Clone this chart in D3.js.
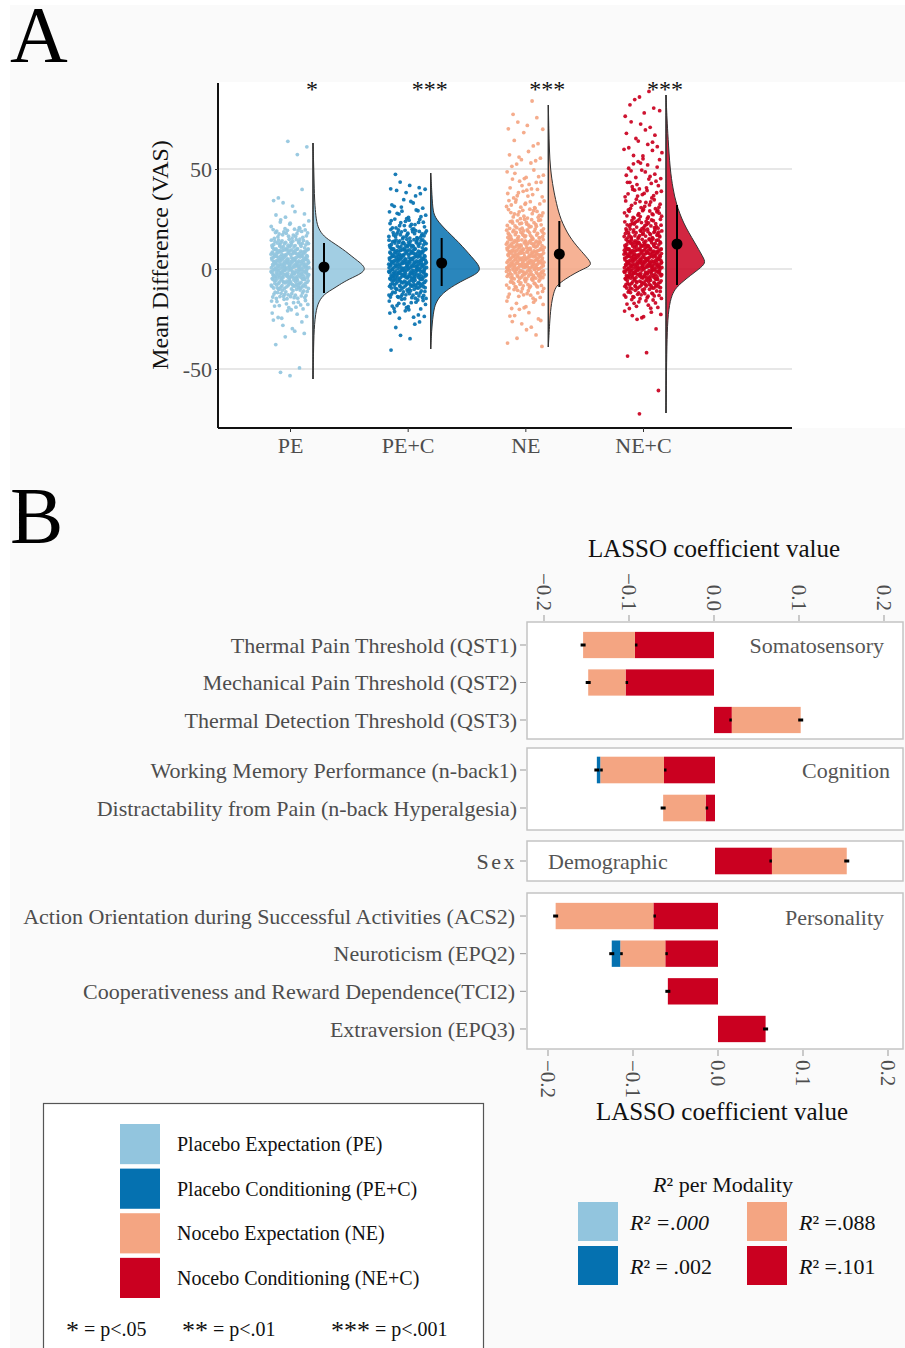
<!DOCTYPE html>
<html>
  <head>
    <meta charset="utf-8" />
    <style>
      body {
        margin: 0;
        background: #fff;
      }
      svg text {
        font-family: "Liberation Serif", "Times New Roman", serif;
      }
    </style>
  </head>
  <body>
    <svg width="905" height="1348"></svg>

    <script src="https://d3js.org/d3.v7.min.js"></script>
    <script>
      // ---------- panel A data ----------
      let groups = ["PE", "PE+C", "NE", "NE+C"];
      let groupColors = ["#92c5de", "#0571b0", "#f4a582", "#ca0020"];
      let stars = ["*", "***", "***", "***"];
      let means = [1, 3, 7.5, 12.5];
      let errLow = [-12, -8.5, -9, -8];
      let errHigh = [13, 15.5, 24, 32];
      let yTicks = [-50, 0, 50];

      // [bin lower bound, number of points] (bins of 5 VAS units)
      let pointsPE = [
        [-55, 2], [-50, 1], [-40, 1], [-35, 3], [-30, 4], [-25, 7], [-20, 14],
        [-15, 28], [-10, 50], [-5, 70], [0, 75], [5, 60], [10, 40], [15, 22],
        [20, 10], [25, 4], [30, 3], [35, 2], [55, 1], [60, 2],
      ];
      let pointsPEC = [
        [-45, 1], [-35, 2], [-30, 3], [-25, 8], [-20, 15], [-15, 30], [-10, 50],
        [-5, 70], [0, 70], [5, 60], [10, 45], [15, 30], [20, 18], [25, 10],
        [30, 7], [35, 5], [40, 4], [45, 1],
      ];
      let pointsNE = [
        [-40, 2], [-35, 3], [-30, 4], [-25, 5], [-20, 8], [-15, 14], [-10, 28],
        [-5, 50], [0, 65], [5, 60], [10, 48], [15, 35], [20, 25], [25, 18],
        [30, 13], [35, 10], [40, 8], [45, 7], [50, 5], [55, 4], [60, 3],
        [65, 2], [70, 3], [75, 2], [80, 1],
      ];
      let pointsNEC = [
        [-75, 1], [-65, 1], [-45, 2], [-30, 2], [-25, 6], [-20, 12], [-15, 25],
        [-10, 45], [-5, 65], [0, 75], [5, 65], [10, 50], [15, 38], [20, 28],
        [25, 20], [30, 15], [35, 12], [40, 10], [45, 8], [50, 7], [55, 6],
        [60, 5], [65, 4], [70, 3], [75, 3], [80, 3], [85, 2],
      ];

      // [value, density]
      let densityPE = [
        [63, 0], [55, 0.0005], [45, 0.001], [35, 0.0015], [28, 0.0025], [22, 0.004],
        [18, 0.008], [15, 0.014], [10, 0.03], [5, 0.042], [1, 0.053], [-2, 0.05],
        [-5, 0.036], [-8, 0.026], [-10, 0.02], [-12, 0.013], [-15, 0.007],
        [-20, 0.003], [-30, 0.001], [-42, 0.0005], [-55, 0],
      ];
      let densityPEC = [
        [48, 0], [40, 0.001], [30, 0.002], [26, 0.004], [21, 0.012], [13, 0.029],
        [6, 0.041], [1, 0.05], [-2, 0.048], [-5, 0.035], [-8, 0.024], [-12, 0.012],
        [-16, 0.006], [-20, 0.003], [-30, 0.001], [-40, 0],
      ];
      let densityNE = [
        [82, 0], [70, 0.0005], [60, 0.001], [50, 0.002], [40, 0.005], [33, 0.008],
        [25, 0.012], [16, 0.021], [10, 0.031], [5, 0.04], [2, 0.044], [0, 0.035],
        [-2, 0.027], [-5, 0.017], [-8, 0.009], [-10.5, 0.006], [-17, 0.003],
        [-25, 0.0015], [-39, 0],
      ];
      let densityNEC = [
        [87, 0], [75, 0.001], [66, 0.002], [50, 0.004], [40, 0.007], [33, 0.01],
        [23, 0.017], [13, 0.029], [6, 0.037], [3, 0.04], [0, 0.033], [-3, 0.025],
        [-7, 0.015], [-10, 0.009], [-14, 0.005], [-22, 0.002], [-35, 0.001],
        [-50, 0.0005], [-72, 0],
      ];
      let pointSets = [pointsPE, pointsPEC, pointsNE, pointsNEC];
      let densities = [densityPE, densityPEC, densityNE, densityNEC];

      // ---------- panel B data ----------
      let predictors = [
        "Thermal Pain Threshold (QST1)",
        "Mechanical Pain Threshold (QST2)",
        "Thermal Detection Threshold (QST3)",
        "Working Memory Performance (n-back1)",
        "Distractability from Pain (n-back Hyperalgesia)",
        "Sex",
        "Action Orientation during Successful Activities (ACS2)",
        "Neuroticism (EPQ2)",
        "Cooperativeness and Reward Dependence(TCI2)",
        "Extraversion (EPQ3)",
      ];
      let modality = [
        "Somatosensory", "Somatosensory", "Somatosensory", "Cognition", "Cognition",
        "Demographic", "Personality", "Personality", "Personality", "Personality",
      ];
      let modalities = ["Somatosensory", "Cognition", "Demographic", "Personality"];
      let coefPE = [0, 0, 0, 0, 0, 0, 0, 0, 0, 0];
      let coefPEC = [0, 0, 0, -0.004, 0, 0, 0, -0.01, 0, 0];
      let coefNE = [-0.061, -0.044, 0.081, -0.075, -0.05, 0.088, -0.115, -0.053, 0, 0];
      let coefNEC = [-0.093, -0.104, 0.021, -0.06, -0.011, 0.067, -0.076, -0.062, -0.059, 0.056];
      let lassoTicks = [-0.2, -0.1, 0, 0.1, 0.2];
      let legendLabels = [
        "Placebo Expectation (PE)",
        "Placebo Conditioning (PE+C)",
        "Nocebo Expectation (NE)",
        "Nocebo Conditioning (NE+C)",
      ];
      let r2Values = [".000", " .002", ".088", ".101"];
      let starLegend = [
        ["*", "= p<.05"],
        ["**", "= p<.01"],
        ["***", "= p<.001"],
      ];

      let svg = d3.select("svg");
      let textColor = "#4d4d4d";

      // background
      svg.append("rect").attr("width", 905).attr("height", 1348).attr("fill", "#fff");
      svg.append("rect").attr("x", 10).attr("y", 5).attr("width", 895).attr("height", 1343).attr("fill", "#fafafa");

      // ================= PANEL A =================
      svg.append("text").attr("x", 10).attr("y", 62).attr("font-size", 80).attr("fill", "#000").text("A");

      let y = d3.scaleLinear().domain([-79.5, 93]).range([428, 83]);
      let x = d3.scalePoint().domain(groups).range([290, 643]);
      let axisLeft = 218,
        axisRight = 792;

      svg.append("rect").attr("x", axisLeft).attr("y", 82).attr("width", 905 - axisLeft).attr("height", 346).attr("fill", "#fff");

      // gridlines
      svg
        .append("g")
        .selectAll("line")
        .data(yTicks)
        .join("line")
        .attr("x1", axisLeft)
        .attr("x2", axisRight)
        .attr("y1", (d) => y(d))
        .attr("y2", (d) => y(d))
        .attr("stroke", "#cfcfcf")
        .attr("stroke-width", 1.2);

      let yAxis = svg
        .append("g")
        .attr("transform", `translate(${axisLeft},0)`)
        .call(d3.axisLeft(y).tickValues(yTicks).tickSize(3).tickPadding(3).tickFormat(d3.format("d")));
      yAxis.select(".domain").attr("stroke", "#111").attr("stroke-width", 2).attr("d", `M0,${y(93)}V${y(-79.5)}`);
      yAxis.selectAll(".tick line").attr("stroke", "#333");
      yAxis
        .selectAll(".tick text")
        .attr("font-size", 22)
        .attr("fill", textColor)
        .attr("font-family", "Liberation Serif")
        .text((d) => (d < 0 ? "-" + Math.abs(d) : d));

      let xAxis = svg
        .append("g")
        .attr("transform", `translate(0,${y(-79.5)})`)
        .call(d3.axisBottom(x).tickSize(4).tickPadding(5));
      xAxis.select(".domain").attr("stroke", "#111").attr("stroke-width", 2).attr("d", `M${axisLeft},0H${axisRight}`);
      xAxis.selectAll(".tick line").attr("stroke", "#333");
      xAxis.selectAll(".tick text").attr("font-size", 22).attr("fill", textColor).attr("font-family", "Liberation Serif");

      svg
        .append("text")
        .attr("transform", `translate(168,255) rotate(-90)`)
        .attr("text-anchor", "middle")
        .attr("font-size", 24)
        .attr("fill", "#111")
        .text("Mean Difference (VAS)");

      // jitter: points of each bin spread with a Halton sequence
      function halton(i, b) {
        let f = 1,
          r = 0;
        while (i > 0) {
          f /= b;
          r += f * (i % b);
          i = Math.floor(i / b);
        }
        return r;
      }
      let jitterX = d3.scaleLinear().domain([0, 1]).range([-19, 19]);
      let widthScale = d3.scaleLinear().domain([0, 0.053]).range([0, 53]);
      let violinOffset = 23,
        meanOffset = 34;

      groups.forEach((g, gi) => {
        let cx = x(g);
        let pts = [];
        let k = 0;
        pointSets[gi].forEach(([lo, n]) => {
          for (let i = 0; i < n; i++) {
            k++;
            pts.push({ px: cx + jitterX(halton(k + 7 * gi, 2)), value: lo + halton(k + 7 * gi, 3) * 5 });
          }
        });

        svg
          .append("g")
          .selectAll("circle")
          .data(pts)
          .join("circle")
          .attr("cx", (d) => d.px)
          .attr("cy", (d) => y(d.value))
          .attr("r", 1.9)
          .attr("fill", groupColors[gi])
          .attr("opacity", 0.92);

        let base = cx + violinOffset;
        let area = d3
          .area()
          .y((d) => y(d[0]))
          .x0(base)
          .x1((d) => base + widthScale(d[1]))
          .curve(d3.curveBasis);
        svg
          .append("path")
          .datum(densities[gi])
          .attr("d", area)
          .attr("fill", groupColors[gi])
          .attr("fill-opacity", 0.85)
          .attr("stroke", "#333")
          .attr("stroke-width", 1);
        let dens = densities[gi];
        svg
          .append("line")
          .attr("x1", base)
          .attr("x2", base)
          .attr("y1", y(dens[0][0]))
          .attr("y2", y(dens[dens.length - 1][0]))
          .attr("stroke", "#333")
          .attr("stroke-width", 1.3);

        let mx = cx + meanOffset;
        svg
          .append("line")
          .attr("x1", mx)
          .attr("x2", mx)
          .attr("y1", y(errLow[gi]))
          .attr("y2", y(errHigh[gi]))
          .attr("stroke", "#000")
          .attr("stroke-width", 2);
        svg.append("circle").attr("cx", mx).attr("cy", y(means[gi])).attr("r", 5.5).attr("fill", "#000");

        svg
          .append("text")
          .attr("x", cx + 22)
          .attr("y", 97)
          .attr("text-anchor", "middle")
          .attr("font-size", 24)
          .attr("fill", "#111")
          .text(stars[gi]);
      });

      // ================= PANEL B =================
      svg.append("text").attr("x", 10).attr("y", 543).attr("font-size", 80).attr("fill", "#000").text("B");

      let xTop = d3.scaleLinear().domain([-0.2, 0.2]).range([544, 884]);
      let xBottom = d3.scaleLinear().domain([-0.2, 0.2]).range([548, 888]);
      let fmt = d3.format(".1f");

      // facet layout: box extent, band range, x shift
      let facetBoxes = [
        { top: 622, bottom: 739, band: [626.25, 738.75], shift: 0 },
        { top: 748, bottom: 830, band: [751, 827], shift: 1 },
        { top: 841, bottom: 881, band: [842, 880], shift: 1 },
        { top: 893, bottom: 1049, band: [897.2, 1047.8], shift: 4 },
      ];
      let facetLabelPos = [
        { x: 884, y: 645, anchor: "end" },
        { x: 890, y: 770, anchor: "end" },
        { x: 548, y: 861, anchor: "start" },
        { x: 884, y: 917, anchor: "end" },
      ];

      let table = predictors.map((p, i) => ({
        predictor: p,
        modality: modality[i],
        PE: coefPE[i],
        "PE+C": coefPEC[i],
        NE: coefNE[i],
        "NE+C": coefNEC[i],
      }));
      let stackKeys = ["NE+C", "NE", "PE+C", "PE"];
      let stacked = d3.stack().keys(stackKeys).offset(d3.stackOffsetDiverging)(table);
      let colorOf = d3.scaleOrdinal().domain(groups).range(groupColors);

      modalities.forEach((m, fi) => {
        let box = facetBoxes[fi];
        let rows = table.filter((d) => d.modality == m).map((d) => d.predictor);
        let band = d3.scaleBand().domain(rows).range(box.band).paddingInner(0.3).paddingOuter(0.15);
        let xs = fi == 3 ? xBottom : xTop;
        let sx = (v) => xs(v) + (fi == 3 ? 0 : box.shift);

        svg
          .append("rect")
          .attr("x", 527)
          .attr("y", box.top)
          .attr("width", 376)
          .attr("height", box.bottom - box.top)
          .attr("fill", "#fff")
          .attr("stroke", "#c4c4c4")
          .attr("stroke-width", 1.5);

        let lab = facetLabelPos[fi];
        svg
          .append("text")
          .attr("x", lab.x)
          .attr("y", lab.y)
          .attr("dy", "0.35em")
          .attr("text-anchor", lab.anchor)
          .attr("font-size", 22)
          .attr("fill", "#555")
          .text(m);

        stacked.forEach((layer) => {
          let segs = layer.filter((d) => d.data.modality == m && d[1] - d[0] != 0);
          svg
            .append("g")
            .selectAll("rect")
            .data(segs)
            .join("rect")
            .attr("x", (d) => sx(Math.min(d[0], d[1])))
            .attr("width", (d) => Math.abs(sx(d[1]) - sx(d[0])))
            .attr("y", (d) => band(d.data.predictor))
            .attr("height", band.bandwidth())
            .attr("fill", colorOf(layer.key));
          // small error marks at the outer end of each segment
          svg
            .append("g")
            .selectAll("rect")
            .data(segs)
            .join("rect")
            .attr("x", (d) => sx(d[0] < 0 ? d[0] : d[1]) - 2.5)
            .attr("y", (d) => band(d.data.predictor) + band.bandwidth() / 2 - 1.5)
            .attr("width", 5)
            .attr("height", 3)
            .attr("fill", "#000");
        });

        let lx = fi == 3 ? 515 : 517;
        svg
          .append("g")
          .selectAll("text")
          .data(rows)
          .join("text")
          .attr("x", lx)
          .attr("y", (d) => band(d) + band.bandwidth() / 2)
          .attr("dy", "0.35em")
          .attr("text-anchor", "end")
          .attr("font-size", 22)
          .attr("letter-spacing", (d) => (d == "Sex" ? 2.5 : 0))
          .attr("fill", textColor)
          .text((d) => d);
        svg
          .append("g")
          .selectAll("line")
          .data(rows)
          .join("line")
          .attr("x1", 520)
          .attr("x2", 526)
          .attr("y1", (d) => band(d) + band.bandwidth() / 2)
          .attr("y2", (d) => band(d) + band.bandwidth() / 2)
          .attr("stroke", "#999");
      });

      // top axis
      let topAxis = svg.append("g");
      topAxis
        .selectAll("line")
        .data(lassoTicks)
        .join("line")
        .attr("x1", (d) => xTop(d))
        .attr("x2", (d) => xTop(d))
        .attr("y1", 615)
        .attr("y2", 621)
        .attr("stroke", "#999");
      topAxis
        .selectAll("text")
        .data(lassoTicks)
        .join("text")
        .attr("transform", (d) => `translate(${xTop(d)},611) rotate(90)`)
        .attr("text-anchor", "end")
        .attr("dy", "0.35em")
        .attr("font-size", 21)
        .attr("fill", textColor)
        .text((d) => fmt(d));
      svg
        .append("text")
        .attr("x", 714)
        .attr("y", 557)
        .attr("text-anchor", "middle")
        .attr("font-size", 25)
        .attr("fill", "#111")
        .text("LASSO coefficient value");

      // bottom axis
      let bottomAxis = svg.append("g");
      bottomAxis
        .selectAll("line")
        .data(lassoTicks)
        .join("line")
        .attr("x1", (d) => xBottom(d))
        .attr("x2", (d) => xBottom(d))
        .attr("y1", 1050)
        .attr("y2", 1056)
        .attr("stroke", "#999");
      bottomAxis
        .selectAll("text")
        .data(lassoTicks)
        .join("text")
        .attr("transform", (d) => `translate(${xBottom(d)},1060) rotate(90)`)
        .attr("text-anchor", "start")
        .attr("dy", "0.35em")
        .attr("font-size", 21)
        .attr("fill", textColor)
        .text((d) => fmt(d));
      svg
        .append("text")
        .attr("x", 722)
        .attr("y", 1120)
        .attr("text-anchor", "middle")
        .attr("font-size", 25)
        .attr("fill", "#111")
        .text("LASSO coefficient value");

      // ---------- legend: conditions ----------
      svg
        .append("rect")
        .attr("x", 43.5)
        .attr("y", 1103.5)
        .attr("width", 440)
        .attr("height", 260)
        .attr("fill", "#fff")
        .attr("stroke", "#555")
        .attr("stroke-width", 1.2);
      let legY = d3.scaleBand().domain(groups).range([1124, 1298]).paddingInner(0.1);
      let leg = svg.append("g");
      leg
        .selectAll("rect")
        .data(groups)
        .join("rect")
        .attr("x", 120)
        .attr("y", (d) => legY(d))
        .attr("width", 40)
        .attr("height", legY.bandwidth())
        .attr("fill", (d) => colorOf(d));
      leg
        .selectAll("text")
        .data(groups)
        .join("text")
        .attr("x", 177)
        .attr("y", (d) => legY(d) + legY.bandwidth() / 2)
        .attr("dy", "0.35em")
        .attr("font-size", 20)
        .attr("fill", "#111")
        .text((d, i) => legendLabels[i]);

      let starX = [66, 182, 331];
      starLegend.forEach(([s, t], i) => {
        let txt = svg
          .append("text")
          .attr("x", starX[i])
          .attr("y", 1336)
          .attr("font-size", 20)
          .attr("fill", "#111");
        txt.append("tspan").attr("font-size", 26).attr("dy", 3).text(s);
        txt.append("tspan").attr("dx", 5).attr("dy", -3).text(t);
      });

      // ---------- legend: R2 per modality ----------
      let r2Title = svg
        .append("text")
        .attr("x", 723)
        .attr("y", 1192)
        .attr("text-anchor", "middle")
        .attr("font-size", 22)
        .attr("fill", "#111");
      r2Title.append("tspan").attr("font-style", "italic").text("R");
      r2Title.append("tspan").text("² per Modality");

      let r2Cols = [578, 578, 747, 747];
      let r2Rows = [1202, 1246, 1202, 1246];
      groups.forEach((g, i) => {
        svg
          .append("rect")
          .attr("x", r2Cols[i])
          .attr("y", r2Rows[i])
          .attr("width", 40)
          .attr("height", 39)
          .attr("fill", colorOf(g));
        let t = svg
          .append("text")
          .attr("x", r2Cols[i] + 52)
          .attr("y", r2Rows[i] + 20)
          .attr("dy", "0.35em")
          .attr("font-size", 22)
          .attr("fill", "#111");
        t.append("tspan").attr("font-style", "italic").text("R");
        t.append("tspan")
          .attr("font-style", i == 0 ? "italic" : "normal")
          .text("² =" + r2Values[i]);
      });
    </script>
  </body>
</html>
